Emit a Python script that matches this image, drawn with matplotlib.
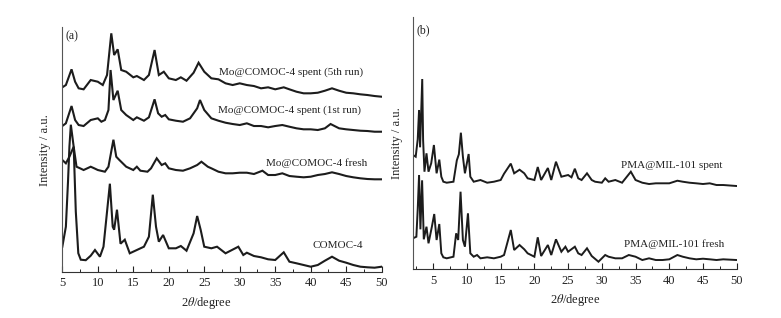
import matplotlib
matplotlib.use("Agg")
import matplotlib.pyplot as plt
from matplotlib.ticker import MultipleLocator

plt.rcParams['font.family'] = ['Liberation Serif', 'DejaVu Serif']
plt.rcParams['mathtext.fontset'] = 'stix'

# ---- panel (a): XRD, Mo@COMOC-4 (arbitrary units) ----
comoc_x = [5.0, 5.5, 5.8, 6.0, 6.2, 6.6, 6.9, 7.25, 7.6, 8.3, 9.0, 9.6, 10.3, 10.8, 11.3, 11.7,
           12.1, 12.3, 12.7, 13.2, 13.8, 14.5, 15.5, 16.5, 17.2, 17.75, 18.2, 18.6, 19.2, 20.0,
           21.0, 21.7, 22.5, 23.5, 24.0, 24.5, 25.0, 26.0, 26.8, 28.0, 29.8, 30.5, 31.0, 32.0,
           33.0, 34.0, 35.0, 36.2, 37.0, 38.0, 39.0, 40.0, 41.0, 42.0, 43.0, 44.0, 45.0, 46.0,
           47.0, 48.0, 49.0, 50.0]
comoc_y = [25, 45, 90, 125, 147, 125, 60, 18.5, 12, 11.5, 16, 21.7, 15, 25, 60, 88,
           45, 42, 62, 28, 32, 18.4, 21.7, 25, 35, 77, 45, 30, 36.7, 23.4,
           23.4, 25.7, 21, 38.4, 55.7, 41.7, 25, 23.4, 25, 18.4, 25, 16.7, 19, 15.7,
           14.4, 12.4, 11.7, 19.4, 10, 8.4, 6.7, 5, 6.7, 11, 15, 11, 9, 6.7,
           5, 4.4, 4, 5]

fresh_x = [5.0, 5.5, 6.0, 6.6, 7.0, 7.5, 8.0, 9.0, 9.5, 10.0, 11.0, 11.5, 12.2, 12.6, 13.0,
           14.0, 15.0, 15.5, 16.0, 17.0, 17.5, 18.3, 19.0, 19.5, 20.0, 21.0, 22.0, 23.0, 24.0,
           24.6, 25.5, 26.0, 27.0, 28.0, 29.0, 30.0, 31.0, 32.0, 33.2, 34.0, 35.0, 36.0, 37.0,
           38.0, 39.0, 40.0, 41.0, 42.0, 43.0, 44.0, 45.0, 46.0, 47.0, 48.0, 49.0, 50.0]
fresh_y = [111.7, 108.4, 115, 125, 105, 103.4, 101.7, 105, 103.4, 101.7, 100, 105, 132, 115, 112,
           105, 101.7, 105, 101, 100, 103.4, 113.4, 106.7, 108.4, 103.4, 101.7, 101, 103.4, 106.7,
           110, 105, 103.4, 100, 98.4, 98.4, 99, 99, 97.7, 101, 96.7, 96.7, 98.4, 95.7,
           95, 94.4, 95, 96.7, 97.7, 99.4, 97.7, 95.7, 94.4, 93.4, 92.7, 92.4, 92.4]

run1_x = [5.0, 5.5, 6.3, 6.8, 7.3, 8.0, 9.0, 10.0, 10.5, 11.0, 11.5, 11.8, 12.2, 12.8, 13.3,
          14.0, 15.0, 15.5, 16.5, 17.2, 18.0, 18.5, 19.0, 19.5, 20.0, 21.0, 22.0, 23.0, 24.0,
          24.4, 25.0, 26.0, 27.0, 28.0, 29.0, 30.0, 31.0, 32.0, 33.0, 34.0, 35.0, 36.0, 37.0,
          38.0, 39.0, 40.0, 41.0, 42.0, 42.8, 44.0, 45.0, 46.0, 47.0, 48.0, 49.0, 50.0]
run1_y = [145.7, 148.4, 165.7, 151.7, 146.7, 145.7, 151.7, 153.4, 150, 151.7, 161.7, 201.7, 171.7, 181, 161.7,
          156.7, 151.7, 154.4, 151, 154.4, 172.4, 158.4, 155, 156.7, 152.4, 151, 150, 153.4, 163.4,
          171.7, 161.7, 153.4, 151, 149, 147.7, 146.7, 148.4, 145.7, 145.7, 144.4, 145.7, 146.7, 145,
          143.4, 142.4, 142.4, 141.7, 143.4, 147.7, 143.4, 142.4, 141.7, 141, 140.7, 140, 140]

run5_x = [5.0, 5.5, 6.3, 6.8, 7.3, 8.0, 9.0, 10.0, 10.7, 11.3, 11.9, 12.3, 12.8, 13.3, 14.0,
          15.0, 15.5, 16.5, 17.2, 18.0, 18.6, 19.3, 20.0, 21.0, 21.7, 22.5, 23.5, 24.2, 25.0,
          26.0, 27.0, 28.0, 29.0, 30.0, 31.0, 32.0, 33.0, 34.0, 35.0, 36.2, 37.0, 38.0, 39.0,
          40.0, 41.0, 42.0, 43.0, 44.0, 45.0, 46.0, 47.0, 48.0, 49.0, 50.0]
run5_y = [184.4, 186.7, 202.4, 190, 183.4, 182.4, 191.7, 190, 186.7, 196.7, 238.4, 216.7, 222.4, 201.7, 200,
          194.4, 195.7, 191.7, 196.7, 221.7, 196.7, 200, 193.4, 191.7, 194.4, 191, 199, 209, 200,
          193.4, 192.4, 188.4, 186.7, 188.4, 186.7, 185.7, 183.4, 184.4, 182.4, 184.4, 182.4, 180, 178.4,
          178.4, 179, 181, 183.4, 181, 179, 178.4, 177.4, 176.7, 175.7, 175]

# ---- panel (b): XRD, PMA@MIL-101 ----
spent_x = [2.0, 2.4, 2.7, 2.9, 3.05, 3.37, 3.5, 3.7, 4.0, 4.3, 4.7, 5.1, 5.5, 5.9, 6.2, 6.5,
           7.0, 8.0, 8.5, 8.8, 9.1, 9.4, 9.7, 10.25, 10.5, 11.0, 12.0, 13.0, 14.0, 15.0, 15.5,
           16.5, 17.0, 17.8, 18.5, 19.0, 20.0, 20.5, 21.0, 22.0, 22.5, 23.2, 24.0, 25.0, 25.5,
           26.0, 26.5, 27.0, 27.8, 28.5, 29.0, 30.0, 30.5, 31.0, 32.0, 33.0, 34.3, 35.0, 36.0,
           37.0, 38.0, 40.0, 41.2, 42.0, 43.0, 44.0, 45.0, 46.0, 47.0, 48.0, 50.0]
spent_y = [114.3, 112.6, 130, 159.3, 122, 190.3, 129.3, 97.6, 116, 97.6, 106, 124.3, 96, 109.7, 92.6, 87.6,
           86.6, 87.6, 109, 115, 136.6, 112.6, 96, 115.3, 92.6, 87.6, 89.3, 86.6, 87.6, 89.3, 95.6,
           105.7, 96, 99.6, 96, 91, 89.3, 102.3, 89.3, 101.3, 89.3, 107.6, 92.6, 94.3, 92,
           100.6, 91, 89.3, 96, 89.3, 87.6, 86.6, 91, 87.6, 89.3, 86.6, 97.6, 89.3, 86.6,
           85.3, 86, 86, 88.6, 87.6, 86.6, 86, 85.3, 86, 84.3, 84.3, 83.3]

pfresh_x = [2.0, 2.5, 2.7, 2.9, 3.1, 3.35, 3.6, 4.0, 4.3, 4.8, 5.15, 5.5, 5.9, 6.2, 6.5, 7.0,
            8.0, 8.4, 8.7, 9.05, 9.4, 9.7, 10.15, 10.5, 11.0, 11.5, 12.0, 13.0, 14.0, 15.0, 15.5,
            16.5, 17.0, 17.8, 18.5, 19.0, 20.0, 20.5, 21.0, 22.0, 22.5, 23.2, 24.0, 24.6, 25.0,
            26.0, 26.5, 27.0, 27.8, 28.5, 29.5, 30.5, 31.0, 32.0, 33.0, 34.0, 35.0, 36.0, 37.0,
            38.0, 39.0, 40.0, 41.2, 42.0, 43.0, 44.0, 45.0, 46.0, 47.0, 48.0, 50.0]
pfresh_y = [31, 32.6, 60, 94.3, 40, 89, 30, 42.6, 26, 42.6, 55.3, 29.3, 45.3, 16, 12, 11,
            12.6, 36, 29.3, 77.6, 29.3, 22.6, 56, 16, 12.6, 14.3, 11, 12, 11, 12.6, 14.3,
            39.3, 19.3, 24.3, 20, 16, 12.6, 32, 13.3, 24.3, 14.3, 30, 17.6, 22.6, 17.6,
            22.6, 16, 14.3, 21, 13.3, 7.6, 14.3, 12.6, 11, 11, 14.3, 12.6, 9.3, 11,
            9.3, 9.3, 10, 14.3, 12.6, 11, 10, 10.6, 10, 9.3, 10, 9.3]

labels_a = ['Mo@COMOC-4 spent (5th run)', 'Mo@COMOC-4 spent (1st run)',
            'Mo@COMOC-4 fresh', 'COMOC-4']
labels_b = ['PMA@MIL-101 spent', 'PMA@MIL-101 fresh']

line_c = '#1c1c1c'
text_c = '#222222'

fig = plt.figure(figsize=(7.81, 3.18), dpi=100)
ax1 = fig.add_axes([0.0798, 0.1456, 0.4089, 0.7694])
ax2 = fig.add_axes([0.5288, 0.1531, 0.4145, 0.7934])


def style(ax, xmin, ymax):
    ax.set_xlim(xmin, 50)
    ax.set_ylim(0, ymax)
    for s in ['top', 'right']:
        ax.spines[s].set_visible(False)
    ax.spines['left'].set_color('#555555')
    ax.spines['bottom'].set_color('#333333')
    ax.xaxis.set_major_locator(MultipleLocator(5))
    ax.xaxis.set_minor_locator(MultipleLocator(2.5))
    ax.tick_params(axis='x', which='major', direction='in', length=4, width=0.8,
                   labelsize=9, colors=text_c, pad=4)
    ax.tick_params(axis='x', which='minor', direction='in', length=2.5, width=0.6)
    ax.set_yticks([])


style(ax1, 5, 244.7)
style(ax2, 2, 252.3)

for xs, ys in [(comoc_x, comoc_y), (fresh_x, fresh_y), (run1_x, run1_y), (run5_x, run5_y)]:
    ax1.plot(xs, ys, color=line_c, lw=1.5, solid_joinstyle='miter')
for xs, ys in [(spent_x, spent_y), (pfresh_x, pfresh_y)]:
    ax2.plot(xs, ys, color=line_c, lw=1.4, solid_joinstyle='miter')

# curve labels (figure pixel positions)
W, H = 781, 318
for lab, (px, py) in zip(labels_a, [(363, 71.7), (361, 110), (367.7, 163), (363, 245.7)]):
    fig.text(px / W, 1 - py / H, lab, ha='right', va='center', fontsize=8, color=text_c)
for lab, (px, py) in zip(labels_b, [(722, 165), (724, 244.5)]):
    fig.text(px / W, 1 - py / H, lab, ha='right', va='center', fontsize=8, color=text_c)

fig.text(65 / W, 1 - 36.7 / H, '(a)', ha='left', va='center', fontsize=8.5, color=text_c)
fig.text(416.7 / W, 1 - 30 / H, '(b)', ha='left', va='center', fontsize=8.5, color=text_c)

fig.text(45 / W, 1 - 150 / H, 'Intensity / a.u.', rotation=90, ha='center', va='center',
         fontsize=9, color=text_c)
fig.text(397 / W, 1 - 143 / H, 'Intensity / a.u.', rotation=90, ha='center', va='center',
         fontsize=9, color=text_c)
fig.text(206 / W, 1 - 302.7 / H, r'2$\theta$/degree', ha='center', va='center',
         fontsize=9, color=text_c)
fig.text(575 / W, 1 - 300 / H, r'2$\theta$/degree', ha='center', va='center',
         fontsize=9, color=text_c)

fig.savefig('out.png', dpi=100)
